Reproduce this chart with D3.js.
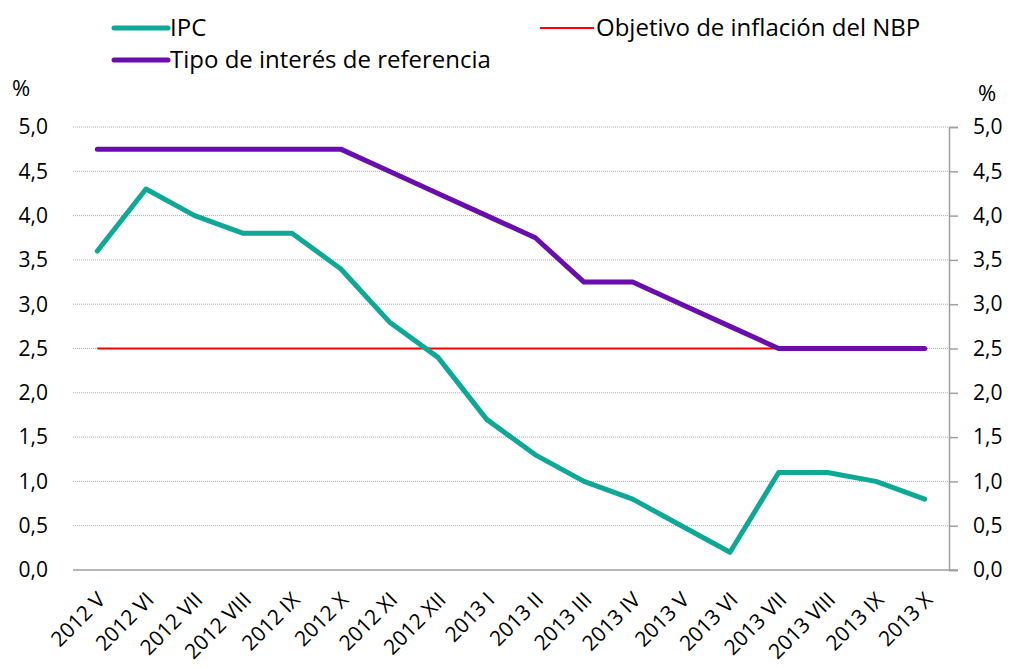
<!DOCTYPE html>
<html>
<head>
<meta charset="utf-8">
<script src="https://cdn.jsdelivr.net/npm/d3@7"></script>
<style>
  body { margin: 0; background: #fff; }
  text { font-family: "Open Sans", "Liberation Sans", sans-serif; fill: #000; }
</style>
</head>
<body>
<div id="chart"></div>
<script>
const months = ["2012 V", "2012 VI", "2012 VII", "2012 VIII", "2012 IX", "2012 X", "2012 XI", "2012 XII",
  "2013 I", "2013 II", "2013 III", "2013 IV", "2013 V", "2013 VI", "2013 VII", "2013 VIII", "2013 IX", "2013 X"];
const ipc = [3.6, 4.3, 4.0, 3.8, 3.8, 3.4, 2.8, 2.4, 1.7, 1.3, 1.0, 0.8, 0.5, 0.2, 1.1, 1.1, 1.0, 0.8];
const rate = [4.75, 4.75, 4.75, 4.75, 4.75, 4.75, 4.5, 4.25, 4.0, 3.75, 3.25, 3.25, 3.0, 2.75, 2.5, 2.5, 2.5, 2.5];
const target = months.map(() => 2.5);
const yTicks = [0, 0.5, 1, 1.5, 2, 2.5, 3, 3.5, 4, 4.5, 5];

const width = 1010, height = 667;
const margin = { top: 127, right: 61, bottom: 97, left: 73 };

const svg = d3.select("#chart").append("svg")
  .attr("width", width)
  .attr("height", height);

const x = d3.scaleBand()
  .domain(months)
  .range([margin.left, width - margin.right]);

const y = d3.scaleLinear()
  .domain([0, 5])
  .range([height - margin.bottom, margin.top]);

const fmt = d => d3.format(".1f")(d).replace(".", ",");

// gridlines
svg.append("g")
  .selectAll("line")
  .data(yTicks.filter(d => d > 0))
  .enter()
  .append("line")
  .attr("x1", margin.left)
  .attr("x2", width - margin.right)
  .attr("y1", d => y(d))
  .attr("y2", d => y(d))
  .attr("stroke", "#aaa")
  .attr("stroke-width", 1)
  .attr("stroke-dasharray", "1,1");

// left labels
svg.append("g")
  .selectAll("text")
  .data(yTicks)
  .enter()
  .append("text")
  .attr("x", 48)
  .attr("y", d => y(d))
  .attr("dy", "0.35em")
  .attr("text-anchor", "end")
  .style("font-size", "21px")
  .text(fmt);

// right axis
const yRight = d3.axisRight(y).tickValues(yTicks).tickFormat(fmt).tickSize(9).tickPadding(15);
const gR = svg.append("g")
  .attr("transform", `translate(${width - margin.right},0)`)
  .call(yRight);
gR.select(".domain").attr("stroke", "#a0a0a0").attr("stroke-width", 1.5);
gR.selectAll(".tick line").attr("stroke", "#a0a0a0").attr("stroke-width", 1.5);
gR.selectAll(".tick text").style("font-size", "21px").attr("fill", "#000")
  .style("font-family", "'Open Sans', 'Liberation Sans', sans-serif");

// bottom axis line
svg.append("line")
  .attr("x1", margin.left)
  .attr("x2", width - margin.right + 9)
  .attr("y1", y(0))
  .attr("y2", y(0))
  .attr("stroke", "#a0a0a0")
  .attr("stroke-width", 1.5);

// x labels
svg.append("g")
  .selectAll("text")
  .data(months)
  .enter()
  .append("text")
  .attr("transform", d => `translate(${x(d) + x.bandwidth() / 2 + 4},${y(0) + 26}) rotate(-45)`)
  .attr("text-anchor", "end")
  .attr("dy", "0.35em")
  .style("font-size", "21px")
  .text(d => d);

const line = d3.line()
  .x((d, i) => x(months[i]) + x.bandwidth() / 2)
  .y(d => y(d));

svg.append("path")
  .datum(target)
  .attr("d", line)
  .attr("fill", "none")
  .attr("stroke", "#ff0000")
  .attr("stroke-width", 2);

svg.append("path")
  .datum(rate)
  .attr("d", line)
  .attr("fill", "none")
  .attr("stroke", "#6a0dad")
  .attr("stroke-width", 5)
  .attr("stroke-linecap", "round")
  .attr("stroke-linejoin", "round");

svg.append("path")
  .datum(ipc)
  .attr("d", line)
  .attr("fill", "none")
  .attr("stroke", "#0fa896")
  .attr("stroke-width", 5)
  .attr("stroke-linecap", "round")
  .attr("stroke-linejoin", "round");

// legend
const legend = [
  { name: "IPC", color: "#0fa896", w: 5, x: 114, y: 28 },
  { name: "Tipo de interés de referencia", color: "#6a0dad", w: 5, x: 114, y: 60 },
  { name: "Objetivo de inflación del NBP", color: "#ff0000", w: 2, x: 540, y: 28 }
];
const lg = svg.append("g").selectAll("g").data(legend).enter().append("g");
lg.append("line")
  .attr("x1", d => d.x)
  .attr("x2", d => d.x + 54)
  .attr("y1", d => d.y)
  .attr("y2", d => d.y)
  .attr("stroke", d => d.color)
  .attr("stroke-width", d => d.w)
  .attr("stroke-linecap", d => d.w > 2 ? "round" : "butt");
lg.append("text")
  .attr("x", d => d.x + 56)
  .attr("y", d => d.y)
  .attr("dy", "0.35em")
  .style("font-size", "24px")
  .text(d => d.name);

// % labels
svg.append("text").attr("x", 12).attr("y", 88).attr("dy", "0.35em").style("font-size", "22px").text("%");
svg.append("text").attr("x", 978).attr("y", 93).attr("dy", "0.35em").style("font-size", "22px").text("%");
</script>
</body>
</html>
